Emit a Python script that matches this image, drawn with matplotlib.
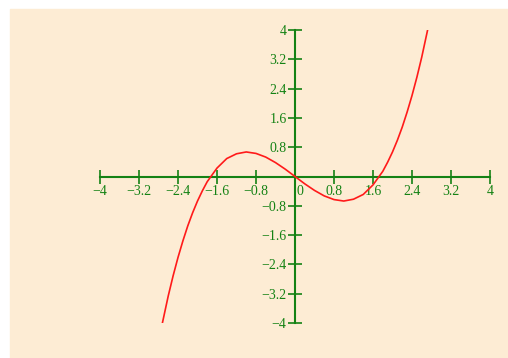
import matplotlib
matplotlib.use("Agg")
import matplotlib.pyplot as plt
import matplotlib.transforms as mtransforms
from matplotlib.patches import Rectangle

# curve points
x_vals = [-2.72, -2.6, -2.5, -2.4, -2.3, -2.2, -2.1, -2.0, -1.9, -1.8,
          -1.6, -1.4, -1.2, -1.0, -0.8, -0.6, -0.4, -0.2, 0.0,
          0.2, 0.4, 0.6, 0.8, 1.0, 1.2, 1.4, 1.6,
          1.8, 1.9, 2.0, 2.1, 2.2, 2.3, 2.4, 2.5, 2.6, 2.72]
y_vals = [-4.0, -3.26, -2.71, -2.21, -1.76, -1.35, -0.99, -0.67, -0.39, -0.14,
          0.23, 0.49, 0.62, 0.67, 0.63, 0.53, 0.38, 0.20, 0.0,
          -0.20, -0.38, -0.53, -0.63, -0.67, -0.62, -0.49, -0.23,
          0.14, 0.39, 0.67, 0.99, 1.35, 1.76, 2.21, 2.71, 3.26, 4.0]

tick_vals = [-4, -3.2, -2.4, -1.6, -0.8, 0, 0.8, 1.6, 2.4, 3.2, 4]
tick_text = ["\u22124", "\u22123.2", "\u22122.4", "\u22121.6", "\u22120.8", "0",
             "0.8", "1.6", "2.4", "3.2", "4"]

green = "#148214"
W, H = 508, 358

fig = plt.figure(figsize=(W / 100, H / 100), dpi=100)
fig.patch.set_facecolor("white")
fig.patches.append(Rectangle((10 / W, 0), 1 - 10 / W, 1 - 9 / H,
                             transform=fig.transFigure, color="#fdecd4",
                             zorder=-10))

ax = fig.add_axes([100 / W, (H - 323) / H, 390 / W, 293 / H])
ax.set_facecolor("none")
ax.set_xlim(-4, 4)
ax.set_ylim(-4, 4)

for s in ["top", "right"]:
    ax.spines[s].set_visible(False)
for s in ["left", "bottom"]:
    ax.spines[s].set_position(("data", 0))
    ax.spines[s].set_color(green)
    ax.spines[s].set_linewidth(1.5)

ax.set_xticks(tick_vals)
ax.set_xticklabels(tick_text)
y_ticks = [v for v in tick_vals if v != 0]
ax.set_yticks(y_ticks)
ax.set_yticklabels([t for v, t in zip(tick_vals, tick_text) if v != 0])

ax.tick_params(direction="inout", length=10, width=1.2, color=green,
               labelcolor=green, labelsize=10, pad=1)
for lab in ax.get_xticklabels() + ax.get_yticklabels():
    lab.set_family("Liberation Serif")

# the 0 label sits just right of the vertical axis
zero_lab = ax.get_xticklabels()[5]
zero_lab.set_transform(zero_lab.get_transform() +
                       mtransforms.ScaledTranslation(5 / 100, 0, fig.dpi_scale_trans))

ax.plot(x_vals, y_vals, color="#ff1a1a", linewidth=1.2, zorder=3)

plt.savefig("out.png", dpi=100)
